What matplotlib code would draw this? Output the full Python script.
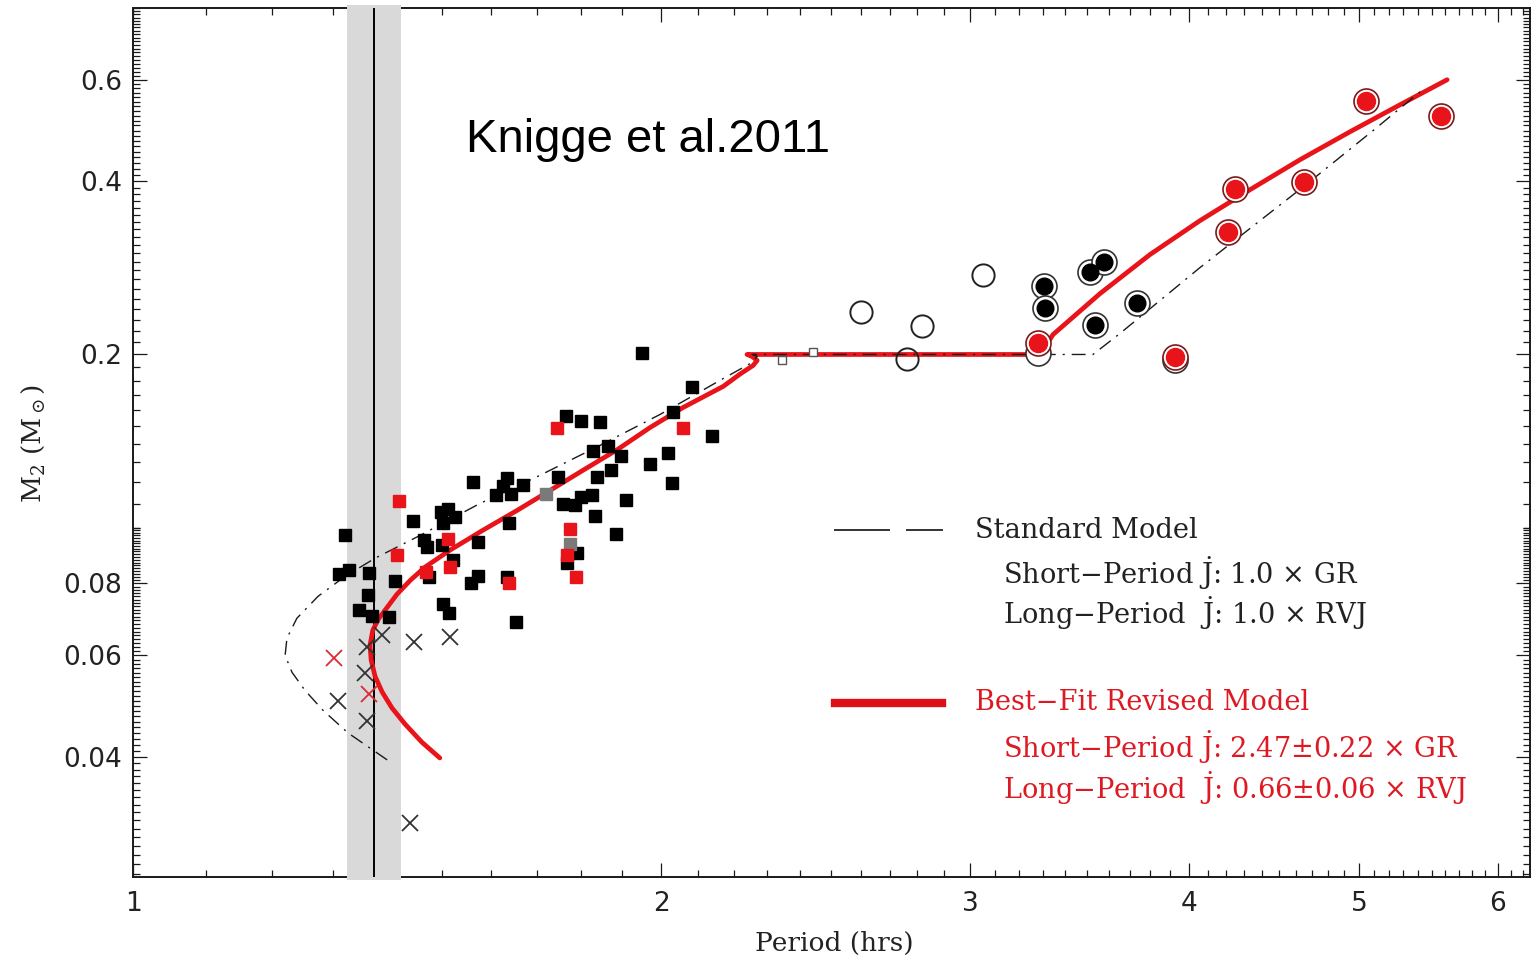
import numpy as np
import matplotlib
matplotlib.use("Agg")
import matplotlib.pyplot as plt
from matplotlib.ticker import NullFormatter
from matplotlib.lines import Line2D

plt.rcParams["mathtext.fontset"] = "dejavuserif"

# ---------------- data: period (hrs) and donor mass (Msun) ----------------
# CVs with superhump / eclipse masses (black squares)
sq_black_p = [1.321, 1.311, 1.328, 1.363, 1.361, 1.345, 1.369, 1.400, 1.411, 1.444,
              1.563, 1.498, 1.512, 1.526, 1.502, 1.465, 1.471, 1.500, 1.573, 1.638,
              1.522, 1.475, 1.573, 1.559, 1.634, 1.502, 1.514, 1.653, 1.611, 1.634,
              1.643, 1.669, 1.625, 1.766, 1.801, 1.846, 1.829, 1.866, 1.898, 2.032,
              2.083, 2.139, 2.019, 1.972, 1.747, 1.839, 1.873, 1.759, 1.787, 1.801,
              1.827, 1.910, 2.029, 1.834, 1.885, 1.791, 1.768, 1.951]
sq_black_m = [0.0970, 0.0830, 0.0843, 0.0833, 0.0763, 0.0719, 0.0702, 0.0699, 0.0807, 0.1026,
              0.1199, 0.1064, 0.1076, 0.1042, 0.1018, 0.0951, 0.0925, 0.0932, 0.0943, 0.1018,
              0.0878, 0.0820, 0.0823, 0.0801, 0.0820, 0.0736, 0.0710, 0.0687, 0.1138, 0.1218,
              0.1143, 0.1185, 0.1180, 0.1561, 0.1530, 0.1524, 0.1357, 0.1385, 0.1330, 0.1586,
              0.1753, 0.1441, 0.1346, 0.1288, 0.1223, 0.1223, 0.1258, 0.1098, 0.1094, 0.1129,
              0.1138, 0.1116, 0.1194, 0.1047, 0.0974, 0.0903, 0.0867, 0.2008]
sq_grey_p = [1.720, 1.775]
sq_grey_m = [0.1143, 0.0936]
sq_open_p = [2.344, 2.442]
sq_open_m = [0.1953, 0.2016]
sq_red_p = [1.418, 1.414, 1.512, 1.516, 1.469, 1.638, 1.745, 2.059, 1.775, 1.768, 1.789]
sq_red_m = [0.1111, 0.0896, 0.0955, 0.0854, 0.0837, 0.0801, 0.1488, 0.1488, 0.0994, 0.0896, 0.0820]

# period bouncers / brown-dwarf donors (crosses)
x_black_p = [1.387, 1.446, 1.516, 1.360, 1.356, 1.309, 1.360, 1.439]
x_black_m = [0.0650, 0.0632, 0.0645, 0.0620, 0.0559, 0.0500, 0.0461, 0.0307]
x_red_p = [1.302, 1.363]
x_red_m = [0.0593, 0.0514]

# long-period systems (circles)
circ_open_p = [2.601, 2.817, 3.052, 2.763]
circ_open_m = [0.2375, 0.2237, 0.2754, 0.1968]
circ_black_p = [3.307, 3.311, 3.513, 3.578, 3.736, 3.536]
circ_black_m = [0.2635, 0.2413, 0.2787, 0.2901, 0.2462, 0.2246]
ring_p = [3.281, 3.927]
ring_m = [0.2008, 0.1960]
circ_red_p = [3.281, 3.927, 4.249, 4.210, 4.652, 5.046, 5.569]
circ_red_m = [0.2090, 0.1976, 0.3883, 0.3270, 0.3994, 0.5521, 0.5199]

# evolution tracks
std_p = [1.396, 1.326, 1.283, 1.253, 1.232, 1.221, 1.224, 1.240, 1.275, 1.321,
         1.374, 1.458, 1.577, 1.706, 1.846, 1.998, 2.161, 2.254, 2.269, 2.254,
         3.526, 3.653, 4.058, 4.664, 5.100, 5.453]
std_m = [0.0395, 0.0440, 0.0482, 0.0522, 0.0561, 0.0600, 0.0643, 0.0696, 0.0760, 0.0823,
         0.0885, 0.0970, 0.1102, 0.1233, 0.1390, 0.1574, 0.1803, 0.1937, 0.1984, 0.2000,
         0.2000, 0.2175, 0.2832, 0.3946, 0.4916, 0.5815]
rev_p = [1.496, 1.461, 1.429, 1.405, 1.387, 1.374, 1.367, 1.365, 1.370, 1.381,
         1.396, 1.414, 1.439, 1.467, 1.516, 1.583, 1.656, 1.729, 1.805, 1.888,
         1.972, 2.059, 2.170, 2.219, 2.257, 2.269, 2.254, 2.239, 3.289, 3.346,
         3.559, 3.800, 4.058, 4.334, 4.628, 4.942, 5.277, 5.613]
rev_m = [0.0398, 0.0424, 0.0456, 0.0486, 0.0518, 0.0552, 0.0589, 0.0625, 0.0664, 0.0696,
         0.0727, 0.0766, 0.0810, 0.0854, 0.0914, 0.0990, 0.1072, 0.1161, 0.1258, 0.1366,
         0.1494, 0.1618, 0.1760, 0.1850, 0.1914, 0.1953, 0.1984, 0.2000, 0.2000, 0.2166,
         0.2552, 0.2983, 0.3417, 0.3868, 0.4361, 0.4877, 0.5433, 0.6004]

# observed period minimum and its uncertainty band
p_min = 1.372
p_min_lo, p_min_hi = 1.324, 1.422

x_major = [1, 2, 3, 4, 5, 6]
x_labels = ["1", "2", "3", "4", "5", "6"]
y_major = [0.04, 0.06, 0.08, 0.2, 0.4, 0.6]
y_labels = ["0.04", "0.06", "0.08", "0.2", "0.4", "0.6"]

RED = "#e8141a"
INK = "#1a1a1a"

# ---------------- figure ----------------
W, H = 1533, 959
fig = plt.figure(figsize=(W / 100, H / 100), dpi=100)
ax = fig.add_axes([133 / W, 1 - 877 / H, (1530 - 133) / W, (877 - 8) / H])
ax.set_xscale("log")
ax.set_yscale("log")
ax.set_xlim(1.0, 6.258)
ax.set_ylim(0.02472, 0.7975)

ax.set_xticks(x_major, labels=x_labels)
ax.set_yticks(y_major, labels=y_labels)
x_minor = [v for v in np.round(np.arange(1.1, 6.3, 0.1), 2) if abs(v - round(v)) > 1e-6]
y_minor = list(np.round(np.arange(0.025, 0.1, 0.001), 3)) + \
    list(np.round(np.arange(0.10, 0.2, 0.01), 2)) + \
    list(np.round(np.arange(0.21, 0.80, 0.01), 2))
y_minor = [v for v in y_minor if min(abs(v - m) for m in y_major) > 1e-6]
ax.set_xticks(x_minor, minor=True)
ax.set_yticks(y_minor, minor=True)
ax.xaxis.set_minor_formatter(NullFormatter())
ax.yaxis.set_minor_formatter(NullFormatter())

ax.tick_params(which="both", direction="in", top=True, right=True,
               width=0.9, color=INK)
ax.tick_params(which="major", length=10)
ax.tick_params(which="minor", length=5)
ax.tick_params(axis="x", which="major", pad=10, labelsize=19, labelcolor="#222222")
ax.tick_params(axis="y", which="major", pad=8, labelsize=19, labelcolor="#222222")
for s in ax.spines.values():
    s.set_linewidth(1.4)
    s.set_color(INK)

# period-minimum band (sits over the frame)
ax.axvspan(p_min_lo, p_min_hi, ymin=-0.004, ymax=1.004, clip_on=False,
           color="#d9d9d9", lw=0, zorder=2.7)
ax.axvline(p_min, color="black", lw=1.4, zorder=2.8)

# tracks
ax.plot(rev_p, rev_m, color=RED, lw=3.4, solid_capstyle="round",
        solid_joinstyle="round", zorder=3)
ax.plot(std_p, std_m, color=INK, lw=1.0, ls=(0, (10, 5, 1.5, 5)), zorder=3.2)

# data
ax.plot(sq_black_p, sq_black_m, "s", ms=8.5, color="black", ls="none", zorder=4)
ax.plot(sq_grey_p, sq_grey_m, "s", ms=8.5, color="#7a7a7a", ls="none", zorder=4)
ax.plot(sq_open_p, sq_open_m, "s", ms=6, mfc="white", mec="#555555", mew=1.0,
        ls="none", zorder=4)
ax.plot(sq_red_p, sq_red_m, "s", ms=8.5, color=RED, ls="none", zorder=4.1)
ax.plot(x_black_p, x_black_m, "x", ms=12, mew=1.3, color="#333333", ls="none", zorder=4)
ax.plot(x_red_p, x_red_m, "x", ms=12, mew=1.3, color="#dc2a36", ls="none", zorder=4)
ax.plot(circ_open_p, circ_open_m, "o", ms=16, mfc="none", mec="#222222", mew=1.4,
        ls="none", zorder=4)
ax.plot(ring_p, ring_m, "o", ms=18, mfc="white", mec="#333333", mew=1.2,
        ls="none", zorder=4)
ax.plot(circ_black_p, circ_black_m, "o", ms=18, mfc="white", mec="#333333", mew=1.2,
        ls="none", zorder=4)
ax.plot(circ_black_p, circ_black_m, "o", ms=12, color="black", ls="none", zorder=4.1)
ax.plot(circ_red_p, circ_red_m, "o", ms=18, mfc="white", mec="#7a1a1a", mew=1.2,
        ls="none", zorder=4.2)
ax.plot(circ_red_p, circ_red_m, "o", ms=13, color=RED, ls="none", zorder=4.3)

# axis titles
fig.text(834 / W, 1 - 943 / H, "Period (hrs)", ha="center", va="center",
         family="DejaVu Serif", fontsize=19, color="#222222")
fig.text(33 / W, 1 - 443 / H, r"M$_2$ (M$_\odot$)", rotation=90, ha="center",
         va="center", family="DejaVu Serif", fontsize=19, color="#222222")

# annotation
fig.text(466 / W, 1 - 152 / H, "Knigge et al.2011", ha="left", va="baseline",
         family="Liberation Sans", fontsize=34, color="black")

# key
def key_text(px, py, s, color):
    fig.text(px / W, 1 - py / H, s, ha="left", va="center",
             family="DejaVu Serif", fontsize=19.6, color=color)

fig.add_artist(Line2D([835 / W, 889 / W], [1 - 530 / H] * 2, color="#333333", lw=1.4))
fig.add_artist(Line2D([907 / W, 942 / W], [1 - 530 / H] * 2, color="#333333", lw=1.4))
fig.add_artist(Line2D([835 / W, 942 / W], [1 - 703 / H] * 2, color="#dd1018", lw=6))
jdot = r"$\dot{\mathrm{J}}$"
key_text(975, 530, "Standard Model", "#222222")
key_text(1003, 573, "Short\u2212Period " + jdot + ": 1.0 \u00d7 GR", "#222222")
key_text(1003, 613, "Long\u2212Period  " + jdot + ": 1.0 \u00d7 RVJ", "#222222")
key_text(975, 703, "Best\u2212Fit Revised Model", "#dd1a24")
key_text(1003, 747, "Short\u2212Period " + jdot + ": 2.47\u00b10.22 \u00d7 GR", "#dd1a24")
key_text(1003, 788, "Long\u2212Period  " + jdot + ": 0.66\u00b10.06 \u00d7 RVJ", "#dd1a24")

fig.savefig("out.png", dpi=100)
